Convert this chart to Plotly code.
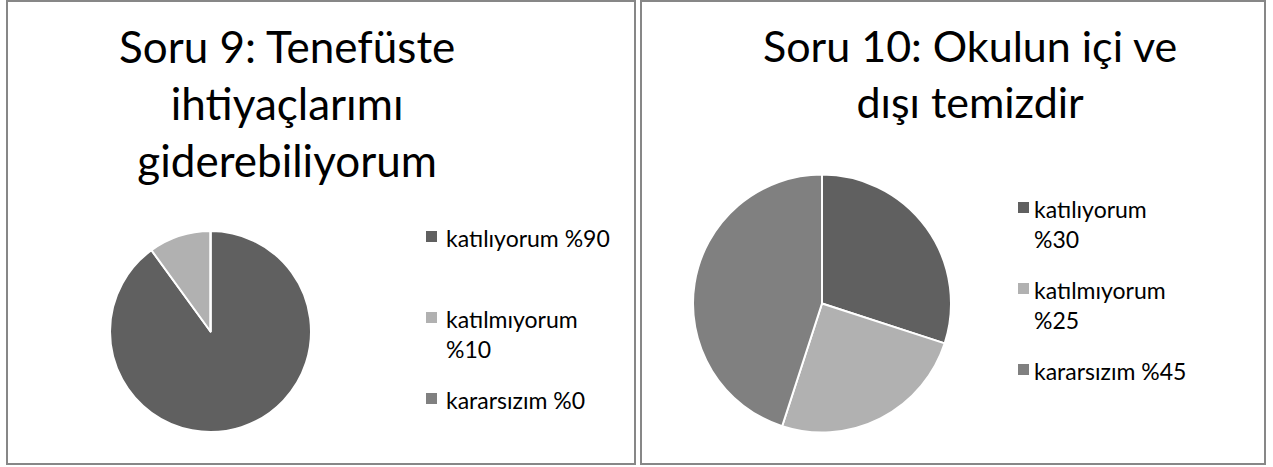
import plotly.graph_objects as go

# ---- data ----
labels = ["katılıyorum", "katılmıyorum", "kararsızım"]
colors = ["#606060", "#b1b1b1", "#808080"]

title_left = "Soru 9: Tenefüste<br>ihtiyaçlarımı<br>giderebiliyorum"
values_left = [90, 10, 0]
legend_left = ["katılıyorum %90", "katılmıyorum<br>%10", "kararsızım %0"]

title_right = "Soru 10: Okulun içi ve<br>dışı temizdir"
values_right = [30, 25, 45]
legend_right = ["katılıyorum<br>%30", "katılmıyorum<br>%25", "kararsızım %45"]

W, H = 1273, 467
FONT = "Lato, Carlito, Calibri, sans-serif"

def px(x):
    return x / W

def py(y):
    return 1 - y / H

fig = go.Figure()

fig.add_trace(go.Pie(
    labels=labels, values=values_left, sort=False, direction="clockwise", rotation=0,
    marker=dict(colors=colors, line=dict(color="white", width=2)),
    textinfo="none", hoverinfo="label+percent", showlegend=False,
    domain=dict(x=[px(110), px(311)], y=[py(432), py(231)]),
))
fig.add_trace(go.Pie(
    labels=labels, values=values_right, sort=False, direction="clockwise", rotation=0,
    marker=dict(colors=colors, line=dict(color="white", width=2)),
    textinfo="none", hoverinfo="label+percent", showlegend=False,
    domain=dict(x=[px(693), px(951)], y=[py(433), py(174)]),
))

shapes = []
annotations = []

# panel borders
shapes.append(dict(type="rect", xref="paper", yref="paper",
                   x0=px(7), x1=px(635), y0=py(464), y1=py(1),
                   line=dict(color="#878787", width=2), fillcolor="rgba(0,0,0,0)"))
shapes.append(dict(type="rect", xref="paper", yref="paper",
                   x0=px(641), x1=px(1265), y0=py(464), y1=py(1),
                   line=dict(color="#878787", width=2), fillcolor="rgba(0,0,0,0)"))

# titles
annotations.append(dict(text=title_left, x=px(287), y=py(18), xref="paper", yref="paper",
                        xanchor="center", yanchor="top", showarrow=False,
                        font=dict(family=FONT, size=44, color="#000000")))
annotations.append(dict(text=title_right, x=px(970), y=py(18), xref="paper", yref="paper",
                        xanchor="center", yanchor="top", showarrow=False,
                        font=dict(family=FONT, size=43, color="#000000")))

# legends (built from data lists)
def add_legend(items, sq_x, text_x, ys):
    for col, txt, y in zip(colors, items, ys):
        shapes.append(dict(type="rect", xref="paper", yref="paper",
                           x0=px(sq_x), x1=px(sq_x + 11), y0=py(y + 6), y1=py(y - 5),
                           line=dict(width=0), fillcolor=col))
        annotations.append(dict(text=txt, x=px(text_x), y=py(y - 14), xref="paper", yref="paper",
                                xanchor="left", yanchor="top", align="left", showarrow=False,
                                font=dict(family=FONT, size=23, color="#000000")))

add_legend(legend_left, 426, 444, [236, 317, 398])
add_legend(legend_right, 1018, 1032, [207, 288, 369])

fig.update_layout(
    width=W, height=H, margin=dict(l=0, r=0, t=0, b=0),
    paper_bgcolor="white", plot_bgcolor="white",
    shapes=shapes, annotations=annotations, showlegend=False,
)

fig.write_html("out.html", config={"displayModeBar": False},
               post_script="document.body.style.margin='0';")
